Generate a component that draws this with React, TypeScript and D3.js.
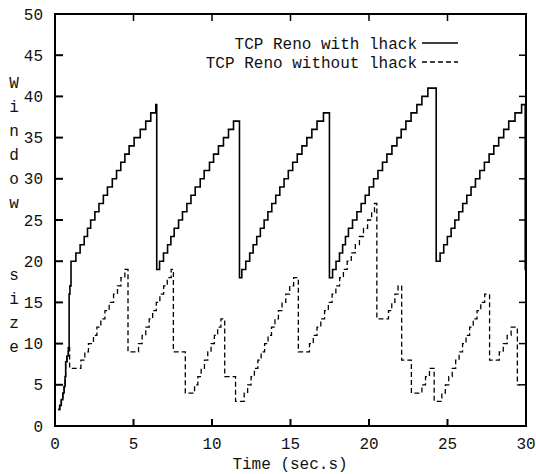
import React from "react";
import * as d3 from "d3";

type Pt = [number, number];

const xTicks = [0, 5, 10, 15, 20, 25, 30];
const yTicks = [0, 5, 10, 15, 20, 25, 30, 35, 40, 45, 50];
const legendLabels = ["TCP Reno with lhack", "TCP Reno without lhack"];
const yAxisLabel = "Window size";
const xAxisLabel = "Time (sec.s)";

// TCP Reno with lhack: [time (s), window size]
const withLhack: Pt[] = [
  [0.2, 2], [0.3, 2.5], [0.4, 3.2], [0.5, 4], [0.58, 4.8], [0.64, 6], [0.68, 7.8], [0.76, 8.5], [0.85, 9.5], [0.9, 16], [0.95, 17], [1.02, 20],
  [1.33, 21], [1.6, 22], [1.86, 23], [2.07, 24], [2.27, 25], [2.54, 26], [2.8, 27], [3.08, 28], [3.34, 29], [3.65, 30], [3.92, 31], [4.19, 32], [4.45, 33], [4.72, 34], [5.04, 35], [5.43, 36], [5.78, 37], [6.1, 38], [6.42, 39],
  [6.48, 19], [6.66, 20], [6.91, 21], [7.17, 22], [7.38, 23], [7.59, 24], [7.87, 25], [8.12, 26], [8.4, 27], [8.66, 28], [8.93, 29], [9.25, 30], [9.5, 31], [9.84, 32], [10.1, 33], [10.41, 34], [10.73, 35], [11.05, 36], [11.37, 37],
  [11.75, 18], [11.9, 19], [12.15, 20], [12.4, 21], [12.62, 22], [12.85, 23], [13.08, 24], [13.32, 25], [13.56, 26], [13.81, 27], [14.06, 28], [14.32, 29], [14.59, 30], [14.86, 31], [15.14, 32], [15.43, 33], [15.73, 34], [16.04, 35], [16.36, 36], [16.69, 37], [17.1, 38],
  [17.48, 18], [17.68, 19], [17.9, 20], [18.12, 21], [18.32, 22], [18.5, 23], [18.69, 24], [18.95, 25], [19.23, 26], [19.5, 27], [19.76, 28], [20.01, 29], [20.29, 30], [20.57, 31], [20.86, 32], [21.14, 33], [21.46, 34], [21.78, 35], [22.05, 36], [22.35, 37], [22.68, 38], [23.05, 39], [23.37, 40], [23.75, 41],
  [24.28, 20], [24.53, 21], [24.76, 22], [24.99, 23], [25.23, 24], [25.47, 25], [25.72, 26], [25.97, 27], [26.23, 28], [26.5, 29], [26.78, 30], [27.06, 31], [27.35, 32], [27.65, 33], [27.95, 34], [28.26, 35], [28.58, 36], [28.9, 37], [29.3, 38], [29.72, 39],
  [29.95, 19], [30, 19],
];

// TCP Reno without lhack: [time (s), window size]
const withoutLhack: Pt[] = [
  [0.2, 2], [0.3, 2.5], [0.4, 3.2], [0.5, 4], [0.58, 4.8], [0.64, 6], [0.68, 7.8], [0.76, 8.5], [0.85, 9.5],
  [0.93, 7], [1.65, 8], [1.9, 9], [2.13, 10], [2.45, 11], [2.67, 12], [2.92, 13], [3.18, 14], [3.45, 15], [3.73, 16], [3.98, 17], [4.2, 18], [4.45, 19],
  [4.65, 9], [5.32, 10], [5.55, 11], [5.78, 12], [6.0, 13], [6.22, 14], [6.45, 15], [6.68, 16], [6.92, 17], [7.15, 18], [7.4, 19],
  [7.54, 9], [8.3, 4], [8.89, 5], [9.1, 6], [9.31, 7], [9.52, 8], [9.73, 9], [9.94, 10], [10.15, 11], [10.36, 12], [10.57, 13],
  [10.81, 6], [11.5, 3], [12.05, 4], [12.27, 5], [12.49, 6], [12.7, 7], [12.92, 8], [13.13, 9], [13.35, 10], [13.57, 11], [13.79, 12], [14.01, 13], [14.23, 14], [14.46, 15], [14.7, 16], [14.95, 17], [15.2, 18],
  [15.5, 9], [16.21, 10], [16.45, 11], [16.69, 12], [16.93, 13], [17.17, 14], [17.41, 15], [17.65, 16], [17.89, 17], [18.13, 18], [18.37, 19], [18.61, 20], [18.87, 21], [19.13, 22], [19.39, 23], [19.65, 24], [19.91, 25], [20.17, 26], [20.35, 27],
  [20.5, 13], [21.24, 14], [21.45, 15], [21.65, 16], [21.85, 17],
  [22.08, 8], [22.7, 4], [23.37, 5], [23.6, 6], [23.85, 7],
  [24.15, 3], [24.64, 4], [24.86, 5], [25.08, 6], [25.3, 7], [25.52, 8], [25.74, 9], [25.96, 10], [26.18, 11], [26.41, 12], [26.64, 13], [26.88, 14], [27.12, 15], [27.37, 16],
  [27.68, 8], [28.3, 9], [28.55, 10], [28.8, 11], [29.05, 12],
  [29.45, 5], [29.6, 5],
];

const FONT = "'Liberation Mono', 'Courier New', monospace";

export default function App() {
  const width = 536;
  const height = 474;
  const left = 55, right = 526, top = 14, bottom = 426;
  const x = d3.scaleLinear().domain([0, 30]).range([left, right]);
  const y = d3.scaleLinear().domain([0, 50]).range([bottom, top]);
  const line = d3
    .line<Pt>()
    .x((d) => x(d[0]))
    .y((d) => y(d[1]))
    .curve(d3.curveStepAfter);

  const tickLen = 8;

  // vertical stacked y label letters
  let row = 0;
  const letters: { c: string; r: number }[] = [];
  for (const c of yAxisLabel) {
    if (c === " ") {
      row += 2;
      continue;
    }
    letters.push({ c, r: row });
    row++;
  }

  const textFill = "#111";

  return (
    <svg
      width={width}
      height={height}
      style={{ position: "absolute", left: 0, top: 0, background: "#fff" }}
      fontFamily={FONT}
      fontSize={16}
    >
      <rect x={0} y={0} width={width} height={height} fill="#fff" />
      {/* data */}
      <path d={line(withoutLhack) || ""} fill="none" stroke="#000" strokeWidth={1.3} strokeDasharray="5,3" />
      <path d={line(withLhack) || ""} fill="none" stroke="#000" strokeWidth={1.6} />

      {/* frame */}
      <rect x={left} y={top} width={right - left} height={bottom - top} fill="none" stroke="#000" strokeWidth={2} />

      {/* ticks */}
      {yTicks.map((v) => (
        <g key={"y" + v}>
          <line x1={left} x2={left + tickLen} y1={y(v)} y2={y(v)} stroke="#000" strokeWidth={2} />
          <line x1={right} x2={right - tickLen + 1} y1={y(v)} y2={y(v)} stroke="#000" strokeWidth={1.5} />
          <text x={43} y={y(v)} dy="0.35em" textAnchor="end" fill={textFill}>
            {v}
          </text>
        </g>
      ))}
      {xTicks.map((v) => (
        <g key={"x" + v}>
          <line x1={x(v)} x2={x(v)} y1={bottom} y2={bottom - tickLen + 1} stroke="#000" strokeWidth={2} />
          <line x1={x(v)} x2={x(v)} y1={top} y2={top + tickLen - 1} stroke="#000" strokeWidth={1.5} />
          <text x={x(v)} y={449} textAnchor="middle" fill={textFill}>
            {v}
          </text>
        </g>
      ))}

      {/* axis labels */}
      <text x={290} y={469} textAnchor="middle" fill={textFill}>
        {xAxisLabel}
      </text>
      {letters.map((l, i) => (
        <text key={"l" + i} x={14} y={82 + l.r * 24} dy="0.35em" textAnchor="middle" fill={textFill}>
          {l.c}
        </text>
      ))}

      {/* legend */}
      {legendLabels.map((lab, i) => {
        const ly = 43 + i * 19;
        return (
          <g key={lab}>
            <text x={417} y={ly} dy="0.35em" textAnchor="end" fill={textFill}>
              {lab}
            </text>
            <line
              x1={422}
              x2={458}
              y1={ly}
              y2={ly}
              stroke="#000"
              strokeWidth={i === 0 ? 1.6 : 1.3}
              strokeDasharray={i === 0 ? undefined : "5,3"}
            />
          </g>
        );
      })}
    </svg>
  );
}
